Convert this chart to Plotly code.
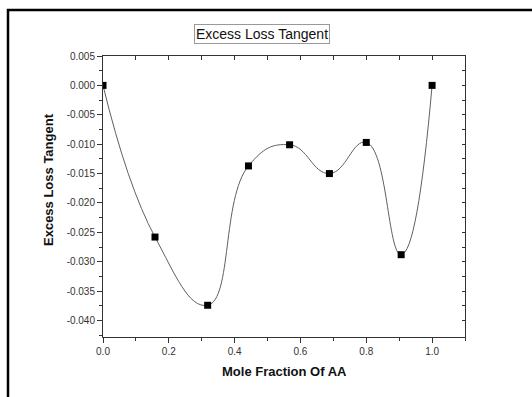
import plotly.graph_objects as go

mole_fraction = [0.0, 0.158, 0.318, 0.442, 0.567, 0.688, 0.800, 0.906, 1.0]
excess_loss_tangent = [0.0, -0.0258, -0.0374, -0.0137, -0.0101, -0.0150, -0.0097, -0.0288, 0.0]

x_range = [0, 1.1]
y_range = [-0.0428, 0.005]

fig = go.Figure()
fig.add_trace(go.Scatter(x=mole_fraction, y=excess_loss_tangent, mode="lines",
                         line=dict(shape="spline", smoothing=1.3, color="#606060", width=1),
                         hoverinfo="skip", showlegend=False))
fig.add_trace(go.Scatter(x=mole_fraction, y=excess_loss_tangent, mode="markers",
                         marker=dict(symbol="square", size=7, color="black"),
                         showlegend=False))

tickfont = dict(family="Arial, Liberation Sans, sans-serif", size=10, color="#333")
fig.update_layout(
    width=532, height=397,
    margin=dict(l=103, r=67, t=56, b=60),
    paper_bgcolor="white", plot_bgcolor="white",
    xaxis=dict(range=x_range, tickmode="array", tickvals=[0, 0.2, 0.4, 0.6, 0.8, 1.0],
               ticktext=["0.0", "0.2", "0.4", "0.6", "0.8", "1.0"],
               ticks="outside", ticklen=5, tickcolor="#333", showgrid=False, zeroline=False,
               showline=True, linecolor="#333", linewidth=1, tickfont=tickfont,
               minor=dict(tickvals=[0.1, 0.3, 0.5, 0.7, 0.9, 1.1], ticks="outside", ticklen=3, tickcolor="#333")),
    yaxis=dict(range=y_range, tickmode="array",
               tickvals=[0.005, 0.0, -0.005, -0.01, -0.015, -0.02, -0.025, -0.03, -0.035, -0.04],
               ticktext=["0.005", "0.000", "-0.005", "-0.010", "-0.015", "-0.020", "-0.025", "-0.030", "-0.035", "-0.040"],
               ticks="outside", ticklen=5, tickcolor="#333", showgrid=False, zeroline=False,
               showline=True, linecolor="#333", linewidth=1, tickfont=tickfont,
               minor=dict(tickvals=[0.0025, -0.0025, -0.0075, -0.0125, -0.0175, -0.0225, -0.0275, -0.0325, -0.0375, -0.0425],
                          ticks="outside", ticklen=3, tickcolor="#333")),
    xaxis2=dict(range=x_range, overlaying="x", side="top", tickmode="array",
                tickvals=[0, 0.1, 0.2, 0.3, 0.4, 0.5, 0.6, 0.7, 0.8, 0.9, 1.0, 1.1],
                ticks="inside", ticklen=4, tickcolor="#333", showticklabels=False,
                showgrid=False, zeroline=False, showline=True, linecolor="#333", linewidth=1),
    yaxis2=dict(range=y_range, overlaying="y", side="right", tickmode="array",
                tickvals=[0.005 - 0.0025 * i for i in range(19)],
                ticks="inside", ticklen=3, tickcolor="#333", showticklabels=False,
                showgrid=False, zeroline=False, showline=True, linecolor="#333", linewidth=1),
)
# dummy trace to activate secondary axes
fig.add_trace(go.Scatter(x=[None], y=[None], xaxis="x2", yaxis="y2", showlegend=False, hoverinfo="skip"))

fig.add_shape(type="rect", xref="paper", yref="paper", x0=(8 - 103) / 362, x1=2.0,
              y0=-1.0, y1=1 + (56 - 10) / 281, line=dict(color="black", width=2.5))

fig.add_annotation(text="Excess Loss Tangent", xref="paper", yref="paper",
                   x=(262 - 103) / 362, y=1 + (56 - 34) / 281, showarrow=False,
                   font=dict(family="Arial, Liberation Sans, sans-serif", size=14, color="#111"),
                   bordercolor="#999", borderwidth=1, borderpad=1, xanchor="center", yanchor="middle")
fig.add_annotation(text="<b>Excess Loss Tangent</b>", xref="paper", yref="paper",
                   x=(48 - 103) / 362, y=(337 - 180) / 281, showarrow=False, textangle=-90,
                   font=dict(family="Arial, Liberation Sans, sans-serif", size=13, color="#111"),
                   xanchor="center", yanchor="middle")
fig.add_annotation(text="<b>Mole Fraction Of AA</b>", xref="paper", yref="paper",
                   x=(284 - 103) / 362, y=-(371 - 337) / 281, showarrow=False,
                   font=dict(family="Arial, Liberation Sans, sans-serif", size=13, color="#111"),
                   xanchor="center", yanchor="middle")

fig.write_html("out.html")
